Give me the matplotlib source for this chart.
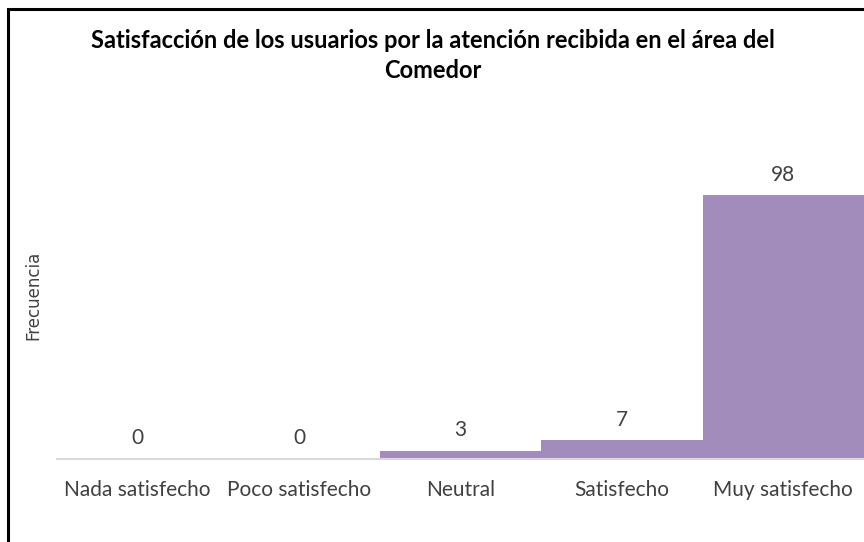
import matplotlib.pyplot as plt
from matplotlib.patches import Rectangle

# datos del grafico
categorias = ["Nada satisfecho", "Poco satisfecho", "Neutral", "Satisfecho", "Muy satisfecho"]
frecuencias = [0, 0, 3, 7, 98]

titulo_1 = "Satisfacción de los usuarios por la atención recibida en el área del"
titulo_2 = "Comedor"

color_barra = "#A28CBC"
color_texto = "#404040"
fuente = ["Lato", "DejaVu Sans"]

W, H = 864, 542
fig = plt.figure(figsize=(W / 100, H / 100), dpi=100)

# area de trazado: base en y=459 px, 98 llega a y=195 px
y_base, y_top = 459, 136
ax = fig.add_axes([57 / W, 1 - y_base / H, 1 - 57 / W, (y_base - y_top) / H])

pos = range(len(categorias))
ax.bar(pos, frecuencias, width=1.0, color=color_barra, edgecolor="none")

for x, v in zip(pos, frecuencias):
    ax.annotate(str(v), (x, v), xytext=(0, 10.5), textcoords="offset points",
                ha="center", va="baseline", fontsize=15, color=color_texto,
                family=fuente)

ax.set_xlim(-0.5, 4.5)
ax.set_ylim(0, 120)
ax.set_xticks(list(pos))
ax.set_xticklabels(categorias, fontsize=15, color=color_texto, family=fuente)
ax.tick_params(axis="x", length=0, pad=15)
ax.set_yticks([])

for s in ["top", "right", "left"]:
    ax.spines[s].set_visible(False)
ax.spines["bottom"].set_color("#D9D9D9")
ax.spines["bottom"].set_linewidth(1.5)

fig.text(33 / W, 1 - 295 / H, "Frecuencia", rotation=90, ha="center", va="center",
         fontsize=12, color=color_texto)

fig.text(433 / W, 1 - 48 / H, titulo_1, ha="center", va="baseline", fontsize=17,
         fontweight="bold", color="black", family=fuente)
fig.text(433 / W, 1 - 78 / H, titulo_2, ha="center", va="baseline", fontsize=17,
         fontweight="bold", color="black", family=fuente)

# marco negro de la figura
fig.patches.append(Rectangle((8 / W, -0.1), 1.2, 1 - 9 / H + 0.1,
                             transform=fig.transFigure, fill=False,
                             edgecolor="black", linewidth=2.2))

fig.savefig("out.png", dpi=100)
